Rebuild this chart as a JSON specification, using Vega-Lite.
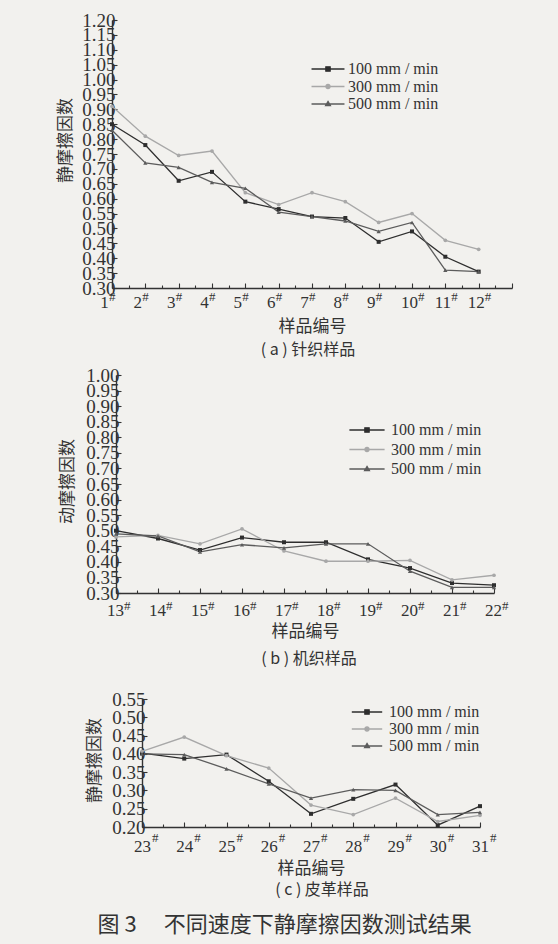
{
  "$schema": "https://vega.github.io/schema/vega-lite/v6.json",
  "background": "#f2f1ee",
  "padding": {"left": 56, "top": 11, "right": 45, "bottom": 9},
  "title": {"text": "图 3　 不同速度下静摩擦因数测试结果", "orient": "bottom", "frame": "bounds", "font": "Noto Sans CJK SC", "fontSize": 22, "fontWeight": "normal", "color": "#333333", "offset": 17, "anchor": "middle"},
  "datasets": {
    "a": [
      {"sample": 1, "speed": "100 mm / min", "value": 0.85}, {"sample": 2, "speed": "100 mm / min", "value": 0.78}, {"sample": 3, "speed": "100 mm / min", "value": 0.66}, {"sample": 4, "speed": "100 mm / min", "value": 0.69}, {"sample": 5, "speed": "100 mm / min", "value": 0.59}, {"sample": 6, "speed": "100 mm / min", "value": 0.565}, {"sample": 7, "speed": "100 mm / min", "value": 0.54}, {"sample": 8, "speed": "100 mm / min", "value": 0.535}, {"sample": 9, "speed": "100 mm / min", "value": 0.455}, {"sample": 10, "speed": "100 mm / min", "value": 0.49}, {"sample": 11, "speed": "100 mm / min", "value": 0.405}, {"sample": 12, "speed": "100 mm / min", "value": 0.355},
      {"sample": 1, "speed": "300 mm / min", "value": 0.91}, {"sample": 2, "speed": "300 mm / min", "value": 0.81}, {"sample": 3, "speed": "300 mm / min", "value": 0.745}, {"sample": 4, "speed": "300 mm / min", "value": 0.76}, {"sample": 5, "speed": "300 mm / min", "value": 0.62}, {"sample": 6, "speed": "300 mm / min", "value": 0.58}, {"sample": 7, "speed": "300 mm / min", "value": 0.62}, {"sample": 8, "speed": "300 mm / min", "value": 0.59}, {"sample": 9, "speed": "300 mm / min", "value": 0.52}, {"sample": 10, "speed": "300 mm / min", "value": 0.55}, {"sample": 11, "speed": "300 mm / min", "value": 0.46}, {"sample": 12, "speed": "300 mm / min", "value": 0.43},
      {"sample": 1, "speed": "500 mm / min", "value": 0.83}, {"sample": 2, "speed": "500 mm / min", "value": 0.72}, {"sample": 3, "speed": "500 mm / min", "value": 0.705}, {"sample": 4, "speed": "500 mm / min", "value": 0.655}, {"sample": 5, "speed": "500 mm / min", "value": 0.635}, {"sample": 6, "speed": "500 mm / min", "value": 0.555}, {"sample": 7, "speed": "500 mm / min", "value": 0.54}, {"sample": 8, "speed": "500 mm / min", "value": 0.525}, {"sample": 9, "speed": "500 mm / min", "value": 0.49}, {"sample": 10, "speed": "500 mm / min", "value": 0.52}, {"sample": 11, "speed": "500 mm / min", "value": 0.36}, {"sample": 12, "speed": "500 mm / min", "value": 0.355}
    ],
    "b": [
      {"sample": 13, "speed": "100 mm / min", "value": 0.50}, {"sample": 14, "speed": "100 mm / min", "value": 0.475}, {"sample": 15, "speed": "100 mm / min", "value": 0.438}, {"sample": 16, "speed": "100 mm / min", "value": 0.478}, {"sample": 17, "speed": "100 mm / min", "value": 0.463}, {"sample": 18, "speed": "100 mm / min", "value": 0.463}, {"sample": 19, "speed": "100 mm / min", "value": 0.408}, {"sample": 20, "speed": "100 mm / min", "value": 0.38}, {"sample": 21, "speed": "100 mm / min", "value": 0.332}, {"sample": 22, "speed": "100 mm / min", "value": 0.325},
      {"sample": 13, "speed": "300 mm / min", "value": 0.48}, {"sample": 14, "speed": "300 mm / min", "value": 0.485}, {"sample": 15, "speed": "300 mm / min", "value": 0.458}, {"sample": 16, "speed": "300 mm / min", "value": 0.506}, {"sample": 17, "speed": "300 mm / min", "value": 0.435}, {"sample": 18, "speed": "300 mm / min", "value": 0.402}, {"sample": 19, "speed": "300 mm / min", "value": 0.402}, {"sample": 20, "speed": "300 mm / min", "value": 0.405}, {"sample": 21, "speed": "300 mm / min", "value": 0.342}, {"sample": 22, "speed": "300 mm / min", "value": 0.357},
      {"sample": 13, "speed": "500 mm / min", "value": 0.49}, {"sample": 14, "speed": "500 mm / min", "value": 0.483}, {"sample": 15, "speed": "500 mm / min", "value": 0.432}, {"sample": 16, "speed": "500 mm / min", "value": 0.455}, {"sample": 17, "speed": "500 mm / min", "value": 0.445}, {"sample": 18, "speed": "500 mm / min", "value": 0.458}, {"sample": 19, "speed": "500 mm / min", "value": 0.458}, {"sample": 20, "speed": "500 mm / min", "value": 0.37}, {"sample": 21, "speed": "500 mm / min", "value": 0.318}, {"sample": 22, "speed": "500 mm / min", "value": 0.318}
    ],
    "c": [
      {"sample": 23, "speed": "100 mm / min", "value": 0.402}, {"sample": 24, "speed": "100 mm / min", "value": 0.387}, {"sample": 25, "speed": "100 mm / min", "value": 0.398}, {"sample": 26, "speed": "100 mm / min", "value": 0.325}, {"sample": 27, "speed": "100 mm / min", "value": 0.236}, {"sample": 28, "speed": "100 mm / min", "value": 0.277}, {"sample": 29, "speed": "100 mm / min", "value": 0.316}, {"sample": 30, "speed": "100 mm / min", "value": 0.205}, {"sample": 31, "speed": "100 mm / min", "value": 0.257},
      {"sample": 23, "speed": "300 mm / min", "value": 0.407}, {"sample": 24, "speed": "300 mm / min", "value": 0.446}, {"sample": 25, "speed": "300 mm / min", "value": 0.395}, {"sample": 26, "speed": "300 mm / min", "value": 0.361}, {"sample": 27, "speed": "300 mm / min", "value": 0.26}, {"sample": 28, "speed": "300 mm / min", "value": 0.234}, {"sample": 29, "speed": "300 mm / min", "value": 0.279}, {"sample": 30, "speed": "300 mm / min", "value": 0.215}, {"sample": 31, "speed": "300 mm / min", "value": 0.232},
      {"sample": 23, "speed": "500 mm / min", "value": 0.40}, {"sample": 24, "speed": "500 mm / min", "value": 0.398}, {"sample": 25, "speed": "500 mm / min", "value": 0.359}, {"sample": 26, "speed": "500 mm / min", "value": 0.318}, {"sample": 27, "speed": "500 mm / min", "value": 0.279}, {"sample": 28, "speed": "500 mm / min", "value": 0.302}, {"sample": 29, "speed": "500 mm / min", "value": 0.30}, {"sample": 30, "speed": "500 mm / min", "value": 0.234}, {"sample": 31, "speed": "500 mm / min", "value": 0.24}
    ]
  },
  "bounds": "flush",
  "spacing": 87,
  "resolve": {"scale": {"x": "independent", "y": "independent", "color": "independent"}, "legend": {"color": "independent"}},
  "vconcat": [
    {
      "width": 400, "height": 268,
      "data": {"name": "a"},
      "title": {"text": "( a ) 针织样品", "dx": -4, "offset": 8},
      "encoding": {
        "x": {"field": "sample", "type": "quantitative", "scale": {"domain": [1, 13], "nice": false, "zero": false},
          "axis": {"title": "样品编号", "values": [1,1.5,2,2.5,3,3.5,4,4.5,5,5.5,6,6.5,7,7.5,8,8.5,9,9.5,10,10.5,11,11.5,12,12.5,13],
            "labelExpr": "datum.value % 1 === 0 && datum.value < 13 ? format(datum.value, 'd') : ''",
            "tickSize": {"condition": {"test": "datum.value % 1 === 0", "value": -5}, "value": -3},
            "labelOffset": {"condition": {"test": "datum.value < 10", "value": -8}, "value": -3},
            "labelPadding": 11, "titlePadding": 6}},
        "y": {"field": "value", "type": "quantitative", "scale": {"domain": [0.3, 1.2], "nice": false, "zero": false},
          "axis": {"title": "静摩擦因数", "values": [0.3,0.35,0.4,0.45,0.5,0.55,0.6,0.65,0.7,0.75,0.8,0.85,0.9,0.95,1.0,1.05,1.1,1.15,1.2], "format": ".2f", "labelFontSize": 19, "tickSize": -5, "labelPadding": 2, "titleY": 120, "titlePadding": 7}},
        "color": {"field": "speed", "type": "nominal", "scale": {"domain": ["100 mm / min", "300 mm / min", "500 mm / min"], "range": ["#2e2e2e", "#a8a8a8", "#5c5c5c"]},
          "legend": {"title": null, "orient": "none", "legendX": 207, "legendY": 40, "padding": 0, "labelFont": "Liberation Serif", "labelFontSize": 16, "labelColor": "#333333", "rowPadding": 0.5, "symbolSize": 256, "labelOffset": 11,
            "encode": {"symbols": {"update": {
              "shape": {"signal": "datum.value === '100 mm / min' ? 'M-2.06,0H2.06M-0.27,-0.27H0.27V0.27H-0.27Z' : datum.value === '300 mm / min' ? 'M-2.06,0H2.06M0.25,0A0.25,0.25,0,1,1,-0.25,0A0.25,0.25,0,1,1,0.25,0Z' : 'M-2.06,0H2.06M0,-0.32L0.3,0.2L-0.3,0.2Z'"},
              "stroke": {"signal": "datum.value === '100 mm / min' ? '#2e2e2e' : datum.value === '300 mm / min' ? '#a8a8a8' : '#5c5c5c'"},
              "fill": {"signal": "datum.value === '100 mm / min' ? '#2e2e2e' : datum.value === '300 mm / min' ? '#a8a8a8' : '#5c5c5c'"},
              "strokeWidth": {"value": 1.3}, "size": {"value": 256}, "opacity": {"value": 1}}}}}}
      },
      "layer": [
        {"mark": {"type": "line", "strokeWidth": 1.3}},
        {"transform": [{"filter": "datum.speed === '100 mm / min'"}], "mark": {"type": "point", "shape": "square", "filled": true, "size": 16, "opacity": 1}},
        {"transform": [{"filter": "datum.speed === '300 mm / min'"}], "mark": {"type": "point", "shape": "circle", "filled": true, "size": 14, "opacity": 1}},
        {"transform": [{"filter": "datum.speed === '500 mm / min'"}], "mark": {"type": "point", "shape": "triangle-up", "filled": true, "size": 18, "opacity": 1}},
        {"transform": [{"filter": "datum.speed === '100 mm / min' && datum.sample < 10"}],
         "mark": {"type": "text", "text": "#", "align": "left", "baseline": "top", "dx": -3, "dy": 3, "font": "Liberation Serif", "fontSize": 13, "color": "#333333"},
         "encoding": {"y": {"datum": 0.3}, "color": null}},
        {"transform": [{"filter": "datum.speed === '100 mm / min' && datum.sample >= 10"}],
         "mark": {"type": "text", "text": "#", "align": "left", "baseline": "top", "dx": 6, "dy": 3, "font": "Liberation Serif", "fontSize": 13, "color": "#333333"},
         "encoding": {"y": {"datum": 0.3}, "color": null}}
      ]
    },
    {
      "width": 382, "height": 237,
      "data": {"name": "b"},
      "title": {"text": "( b ) 机织样品", "dx": 6, "offset": 12},
      "encoding": {
        "x": {"field": "sample", "type": "quantitative", "scale": {"domain": [13, 22], "range": [4, 382], "nice": false, "zero": false},
          "axis": {"title": "样品编号", "offset": -19, "values": [13,13.5,14,14.5,15,15.5,16,16.5,17,17.5,18,18.5,19,19.5,20,20.5,21,21.5,22],
            "labelExpr": "datum.value % 1 === 0 ? format(datum.value, 'd') : ''",
            "tickSize": {"condition": {"test": "datum.value % 1 === 0", "value": -5}, "value": -3},
            "labelOffset": -1,
            "labelPadding": 14, "titlePadding": 3}},
        "y": {"field": "value", "type": "quantitative", "scale": {"domain": [0.3, 1.0], "range": [218, 0], "nice": false, "zero": false},
          "axis": {"title": "动摩擦因数", "offset": -4, "values": [0.3,0.35,0.4,0.45,0.5,0.55,0.6,0.65,0.7,0.75,0.8,0.85,0.9,0.95,1.0], "format": ".2f", "labelFontSize": 19, "tickSize": -5, "labelPadding": 2, "titleY": 106, "titlePadding": 9}},
        "color": {"field": "speed", "type": "nominal", "scale": {"domain": ["100 mm / min", "300 mm / min", "500 mm / min"], "range": ["#2e2e2e", "#a8a8a8", "#5c5c5c"]},
          "legend": {"title": null, "orient": "none", "legendX": 246, "legendY": 46, "padding": 0, "labelFont": "Liberation Serif", "labelFontSize": 16, "labelColor": "#333333", "rowPadding": 2.5, "symbolSize": 256, "labelOffset": 15,
            "encode": {"symbols": {"update": {
              "shape": {"signal": "datum.value === '100 mm / min' ? 'M-2.2,0H2.2M-0.27,-0.27H0.27V0.27H-0.27Z' : datum.value === '300 mm / min' ? 'M-2.2,0H2.2M0.25,0A0.25,0.25,0,1,1,-0.25,0A0.25,0.25,0,1,1,0.25,0Z' : 'M-2.2,0H2.2M0,-0.32L0.3,0.2L-0.3,0.2Z'"},
              "stroke": {"signal": "datum.value === '100 mm / min' ? '#2e2e2e' : datum.value === '300 mm / min' ? '#a8a8a8' : '#5c5c5c'"},
              "fill": {"signal": "datum.value === '100 mm / min' ? '#2e2e2e' : datum.value === '300 mm / min' ? '#a8a8a8' : '#5c5c5c'"},
              "strokeWidth": {"value": 1.3}, "size": {"value": 256}, "opacity": {"value": 1}}}}}}
      },
      "layer": [
        {"mark": {"type": "line", "strokeWidth": 1.3}},
        {"transform": [{"filter": "datum.speed === '100 mm / min'"}], "mark": {"type": "point", "shape": "square", "filled": true, "size": 16, "opacity": 1}},
        {"transform": [{"filter": "datum.speed === '300 mm / min'"}], "mark": {"type": "point", "shape": "circle", "filled": true, "size": 14, "opacity": 1}},
        {"transform": [{"filter": "datum.speed === '500 mm / min'"}], "mark": {"type": "point", "shape": "triangle-up", "filled": true, "size": 18, "opacity": 1}},
        {"transform": [{"filter": "datum.speed === '100 mm / min'"}],
         "mark": {"type": "text", "text": "#", "align": "left", "baseline": "top", "dx": 8, "dy": 7, "font": "Liberation Serif", "fontSize": 13, "color": "#333333"},
         "encoding": {"y": {"datum": 0.3}, "color": null}}
      ]
    },
    {
      "width": 368, "height": 128,
      "data": {"name": "c"},
      "title": {"text": "( c ) 皮革样品", "dx": 26, "offset": 6},
      "encoding": {
        "x": {"field": "sample", "type": "quantitative", "scale": {"domain": [23, 31], "range": [30, 368], "nice": false, "zero": false},
          "axis": {"title": "样品编号", "values": [23,23.5,24,24.5,25,25.5,26,26.5,27,27.5,28,28.5,29,29.5,30,30.5,31],
            "labelExpr": "datum.value % 1 === 0 ? format(datum.value, 'd') : ''",
            "tickSize": {"condition": {"test": "datum.value % 1 === 0", "value": -5}, "value": -3},
            "labelOffset": 0,
            "labelPadding": 16, "titlePadding": 4}},
        "y": {"field": "value", "type": "quantitative", "scale": {"domain": [0.2, 0.55], "nice": false, "zero": false},
          "axis": {"title": "静摩擦因数", "offset": -30, "values": [0.2,0.25,0.3,0.35,0.4,0.45,0.5,0.55], "format": ".2f", "labelFontSize": 19, "tickSize": -5, "labelPadding": 2, "titleY": 61, "titlePadding": 8}},
        "color": {"field": "speed", "type": "nominal", "scale": {"domain": ["100 mm / min", "300 mm / min", "500 mm / min"], "range": ["#2e2e2e", "#a8a8a8", "#5c5c5c"]},
          "legend": {"title": null, "orient": "none", "legendX": 246, "legendY": 4, "padding": 0, "labelFont": "Liberation Serif", "labelFontSize": 16, "labelColor": "#333333", "rowPadding": 0, "symbolSize": 256, "labelOffset": 13,
            "encode": {"symbols": {"update": {
              "shape": {"signal": "datum.value === '100 mm / min' ? 'M-1.9,0H1.9M-0.27,-0.27H0.27V0.27H-0.27Z' : datum.value === '300 mm / min' ? 'M-1.9,0H1.9M0.25,0A0.25,0.25,0,1,1,-0.25,0A0.25,0.25,0,1,1,0.25,0Z' : 'M-1.9,0H1.9M0,-0.32L0.3,0.2L-0.3,0.2Z'"},
              "stroke": {"signal": "datum.value === '100 mm / min' ? '#2e2e2e' : datum.value === '300 mm / min' ? '#a8a8a8' : '#5c5c5c'"},
              "fill": {"signal": "datum.value === '100 mm / min' ? '#2e2e2e' : datum.value === '300 mm / min' ? '#a8a8a8' : '#5c5c5c'"},
              "strokeWidth": {"value": 1.3}, "size": {"value": 256}, "opacity": {"value": 1}}}}}}
      },
      "layer": [
        {"mark": {"type": "line", "strokeWidth": 1.3}},
        {"transform": [{"filter": "datum.speed === '100 mm / min'"}], "mark": {"type": "point", "shape": "square", "filled": true, "size": 16, "opacity": 1}},
        {"transform": [{"filter": "datum.speed === '300 mm / min'"}], "mark": {"type": "point", "shape": "circle", "filled": true, "size": 14, "opacity": 1}},
        {"transform": [{"filter": "datum.speed === '500 mm / min'"}], "mark": {"type": "point", "shape": "triangle-up", "filled": true, "size": 18, "opacity": 1}},
        {"transform": [{"filter": "datum.speed === '100 mm / min'"}],
         "mark": {"type": "text", "text": "#", "align": "left", "baseline": "top", "dx": 10, "dy": 5, "font": "Liberation Serif", "fontSize": 13, "color": "#333333"},
         "encoding": {"y": {"datum": 0.2}, "color": null}}
      ]
    }
  ],
  "config": {
    "view": {"stroke": null},
    "axis": {"grid": false, "domainColor": "#333333", "domainWidth": 1.4, "tickColor": "#333333", "tickWidth": 1.1, "labelFont": "Liberation Serif", "labelFontSize": 17, "labelColor": "#333333", "labelOverlap": false, "labelFlush": false, "labelBound": false, "titleFont": "Noto Sans CJK SC", "titleFontSize": 17, "titleFontWeight": "normal", "titleColor": "#333333"},
    "title": {"orient": "bottom", "frame": "group", "anchor": "middle", "font": "Noto Sans CJK SC", "fontSize": 16, "fontWeight": "normal", "color": "#333333"}
  }
}
